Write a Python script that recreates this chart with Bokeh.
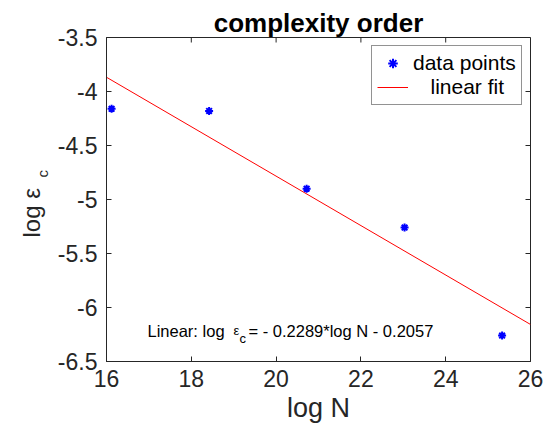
from bokeh.plotting import figure
from bokeh.models import FixedTicker, CustomJSTickFormatter, Label, Range1d, Legend, LegendItem
from bokeh.embed import file_html
from bokeh.resources import INLINE
import numpy as np

# ---- data ----
log_N = [16.12, 18.42, 20.72, 23.03, 25.33]
log_eps = [-4.16, -4.18, -4.90, -5.26, -6.26]
fit_slope = -0.2289
fit_intercept = -0.2057
fit_x = [16, 26]
x_ticks = [16, 18, 20, 22, 24, 26]
y_ticks = [-6.5, -6, -5.5, -5, -4.5, -4, -3.5]

FONT = "Liberation Sans"
DARK = "#262626"
X0, X1, Y0, Y1 = 16, 26, -6.5, -3.5
W, H = 549, 430
FW, FH = 424, 324          # frame size in px
FL, FT = 106, 37           # frame left / top on the canvas

p = figure(width=W, height=H, output_backend="svg", toolbar_location=None,
           x_range=Range1d(X0, X1), y_range=Range1d(Y0, Y1),
           min_border_left=FL, min_border_right=W - FL - FW, min_border_top=FT,
           min_border_bottom=H - FT - FH, title="complexity order")
p.title.text_font = FONT
p.title.text_font_size = "26px"
p.title.text_font_style = "bold"
p.title.align = "center"
p.title.text_color = "#000000"
p.title.standoff = 0

p.background_fill_color = "white"
p.border_fill_color = "white"
p.outline_line_color = DARK
p.outline_line_width = 1
p.xgrid.visible = False
p.ygrid.visible = False

fmt = CustomJSTickFormatter(code="return tick.toString()")
for ax, ticks in ((p.xaxis[0], x_ticks), (p.yaxis[0], y_ticks)):
    ax.ticker = FixedTicker(ticks=ticks)
    ax.formatter = fmt
    ax.major_tick_in = 5
    ax.major_tick_out = 0
    ax.minor_tick_line_color = None
    ax.axis_line_color = DARK
    ax.major_tick_line_color = DARK
    ax.major_label_text_font = FONT
    ax.major_label_text_font_size = "23px"
    ax.major_label_text_color = DARK

p.xaxis.major_label_standoff = 8
p.yaxis.major_label_standoff = 9
p.xaxis.axis_label = "log N"
p.xaxis.axis_label_text_font = FONT
p.xaxis.axis_label_text_font_size = "27px"
p.xaxis.axis_label_text_font_style = "normal"
p.xaxis.axis_label_text_color = DARK
p.xaxis.axis_label_standoff = 3

# inward ticks on the top and right edges of the box
tick_dx = 5 * (X1 - X0) / FW
tick_dy = 5 * (Y1 - Y0) / FH
p.segment(x0=x_ticks, y0=[Y1] * len(x_ticks), x1=x_ticks, y1=[Y1 - tick_dy] * len(x_ticks),
          line_color=DARK, line_width=1)
p.segment(x0=[X1] * len(y_ticks), y0=y_ticks, x1=[X1 - tick_dx] * len(y_ticks), y1=y_ticks,
          line_color=DARK, line_width=1)

fit_y = [fit_slope * x + fit_intercept for x in fit_x]
r_fit = p.line(fit_x, fit_y, line_color="#FF0000", line_width=1)
r_pts = p.scatter(log_N, log_eps, marker="asterisk", size=8, line_width=2,
                  line_color="#0000FF")

lg = Legend(items=[LegendItem(label="data points", renderers=[r_pts]),
                   LegendItem(label="   linear fit", renderers=[r_fit])])
p.add_layout(lg)
lg.location = "top_right"
lg.margin = 8
lg.border_line_color = DARK
lg.border_line_width = 1
lg.background_fill_color = "white"
lg.background_fill_alpha = 1
lg.label_text_font = FONT
lg.label_text_font_size = "21px"
lg.label_text_color = "#000000"
lg.glyph_width = 31
lg.glyph_height = 24
lg.label_height = 24
lg.padding = 5
lg.spacing = 0
lg.label_standoff = 5
lg.label_width = 103

def dx(pix):  # canvas x pixel -> data x
    return X0 + (pix - FL) * (X1 - X0) / FW
def dy(pix):  # canvas y pixel -> data y
    return Y1 - (pix - FT) * (Y1 - Y0) / FH

# y-axis label (rotated) with subscript, placed in the left panel so it is not clipped
for txt, px, py, fs in (("log  ε", 31, 237, "24px"), ("c", 42, 177, "15px")):
    p.add_layout(Label(x=dx(px), y=dy(py), text=txt, angle=np.pi / 2,
                       text_font=FONT, text_font_size=fs, text_color=DARK,
                       text_align="left", text_baseline="alphabetic"), "left")

# equation annotation
p.add_layout(Label(x=dx(147), y=dy(330), text="Linear:  log ", text_font=FONT,
                   text_font_size="16.5px", text_color="#000000",
                   text_align="left", text_baseline="alphabetic"))
p.add_layout(Label(x=dx(233), y=dy(330), text="ε", text_font=FONT,
                   text_font_size="13px", text_color="#000000",
                   text_align="left", text_baseline="alphabetic"))
p.add_layout(Label(x=dx(239), y=dy(338), text="c", text_font=FONT,
                   text_font_size="13px", text_color="#000000",
                   text_align="left", text_baseline="alphabetic"))
p.add_layout(Label(x=dx(248), y=dy(330), text=" = - 0.2289*log N - 0.2057", text_font=FONT,
                   text_font_size="16.5px", text_color="#000000",
                   text_align="left", text_baseline="alphabetic"))

open("out.html", "w").write(file_html(p, INLINE))
